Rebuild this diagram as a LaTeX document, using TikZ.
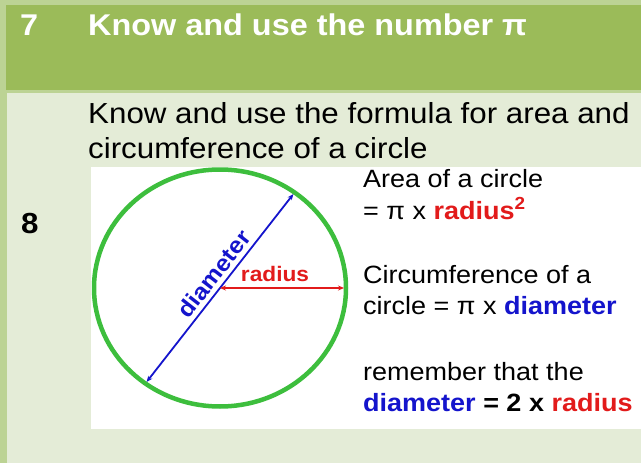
\documentclass[tikz,border=0pt]{standalone}
\usepackage{fontspec}
\setmainfont{Liberation Sans}[FakeStretch=1.08]
\usetikzlibrary{arrows.meta,shapes.geometric}
\definecolor{hdgreen}{HTML}{9BBB59}
\definecolor{edgegreen}{HTML}{BCD394}
\definecolor{bodygreen}{HTML}{E4ECD7}
\definecolor{ringgreen}{HTML}{3DBE3D}
\definecolor{diablue}{HTML}{1414CC}
\definecolor{radred}{HTML}{E21B1B}

\begin{document}
\begin{tikzpicture}[x=1pt, y=-1pt,
  hd/.style={anchor=base west, inner sep=0pt, text=white,
             font=\fontsize{30}{34}\selectfont\bfseries},
  txt/.style={anchor=base west, inner sep=0pt, font=\fontsize{29}{34}\selectfont},
  note/.style={anchor=base west, inner sep=0pt, font=\fontsize{25}{30}\selectfont},
  lbl/.style={inner sep=1pt, font=\fontsize{21}{24}\selectfont\bfseries},
  dim/.style={<->, >={Stealth[length=6pt,width=5pt]}, line width=1.8pt},
]
\useasboundingbox (0,0) rectangle (641,463);
% table cells
\fill[edgegreen] (0,0) rectangle (641,463);
\fill[hdgreen] (6,5) rectangle (641,90);
\fill[bodygreen] (7,93) rectangle (641,463);
\fill[white] (91,167) rectangle (641,429);

% header row
\node[hd] (num7) at (20,35) {7};
\node[hd] (title) at (88,35) {Know and use the number π};

% body row
\node[txt] (aim1) at (88,123) {Know and use the formula for area and};
\node[txt] (aim2) at (88,158) {circumference of a circle};
\node[txt, font=\fontsize{29}{34}\selectfont\bfseries] (num8) at (21,233) {8};

% circle
\node[draw=ringgreen, line width=4.5pt, ellipse, outer sep=0pt,
      minimum width=252pt, minimum height=237pt] (circ) at (220,288) {};
\draw[dim, diablue, shorten <=2pt, shorten >=2pt] (circ.232) -- (circ.52)
  node[pos=0.53, sloped, above=3pt, lbl, font=\fontsize{23}{26}\selectfont\bfseries,
       text=diablue] (dlab) {diameter};
\draw[dim, radred, shorten >=2pt] (circ.center) -- (circ.east);
\node[lbl, text=radred] (rlab) at (275,274) {radius};

% formulas
\node[note] (area1) at (363,187) {Area of a circle};
\node[note] (area2) at (363,219) {= π x {\color{radred}\bfseries radius\textsuperscript{2}}};
\node[note] (circ1) at (363,283) {Circumference of a};
\node[note] (circ2) at (363,314) {circle = π x {\color{diablue}\bfseries diameter}};
\node[note] (rem1) at (363,380) {remember that the};
\node[note] (rem2) at (363,411) {\bfseries{\color{diablue}diameter} = 2 x {\color{radred}radius}};
\end{tikzpicture}
\end{document}
